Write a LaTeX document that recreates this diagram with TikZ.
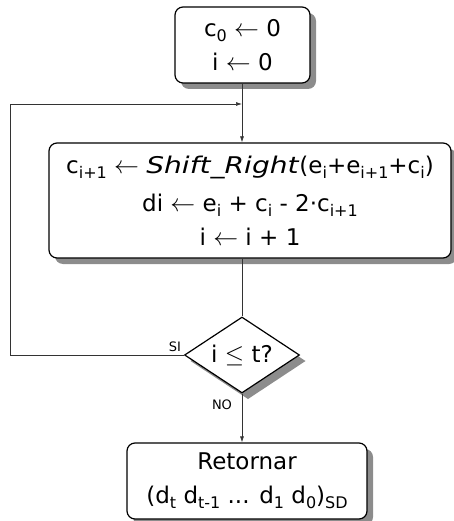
\documentclass[tikz,border=0pt]{standalone}
\usepackage{fontspec}
\usepackage{graphicx}
\setmainfont{DejaVu Sans}[ItalicFont={DejaVu Sans Oblique}]
\usetikzlibrary{shapes.geometric,arrows.meta}
\newcommand{\lo}[1]{\raisebox{-0.4ex}{\fontsize{16}{16}\selectfont #1}}
\tikzset{
  box/.style={draw, line width=1.2pt, rounded corners=8pt, fill=white, align=center,
    inner sep=0pt, font=\fontsize{23}{34}\selectfont},
  test/.style={diamond, draw, line width=1.2pt, fill=white, inner sep=0pt, aspect=1.5,
    font=\fontsize{23}{26}\selectfont},
  shade3/.style={fill=black!45, rounded corners=8pt},
  flow/.style={draw=black!80, line width=0.7pt, -{Latex[length=6pt,width=4pt]}},
  tag/.style={font=\fontsize{13}{13}\selectfont, inner sep=0pt}
}
\begin{document}
\begin{tikzpicture}[x=1pt, y=-1pt]
\useasboundingbox (0,0) rectangle (453,521);
% shadows
\fill[shade3] (181,13) rectangle (316,89);
\fill[shade3] (55,149) rectangle (457,264);
\fill[shade3] (133,449) rectangle (373,525);
\fill[shade3, rounded corners=0pt] (248,323) -- (305.5,361) -- (248,399) -- (190.5,361) -- cycle;
\node[box, minimum width=135pt, minimum height=76pt] (init) at (242.5,45) {c\lo{0} $\leftarrow$ 0\\i $\leftarrow$ 0};
\node[box, minimum width=402pt, minimum height=115pt] (step) at (250,200.5)
  {c\lo{i+1} $\leftarrow$ \scalebox{1.22}[1]{\textit{Shift\_Right}}(e\lo{i}+e\lo{i+1}+c\lo{i})\\[4pt]
   di $\leftarrow$ e\lo{i} + c\lo{i} - 2·c\lo{i+1}\\
   i $\leftarrow$ i + 1};
\node[test, minimum width=115pt, minimum height=76pt] (check) at (242,355) {i $\leq$ t?};
\node[box, minimum width=240pt, minimum height=76pt] (ret) at (247,481) {Retornar\\(d\lo{t} d\lo{t-1} ... d\lo{1} d\lo{0})\lo{SD}};
\coordinate (merge) at (242,104);
\node[tag] (si) at (175,347) {SI};
\node[tag] (no) at (222,405) {NO};
\draw[flow] (init.south -| merge) -- (step.north -| merge);
\draw[flow] (check.west) -- ++(-174,0) |- (merge);
\draw[flow] (check.south) -- (check.south |- ret.north);
\draw[draw=black!80, line width=0.7pt] (step.south -| check) -- (check.north);
\end{tikzpicture}
\end{document}
